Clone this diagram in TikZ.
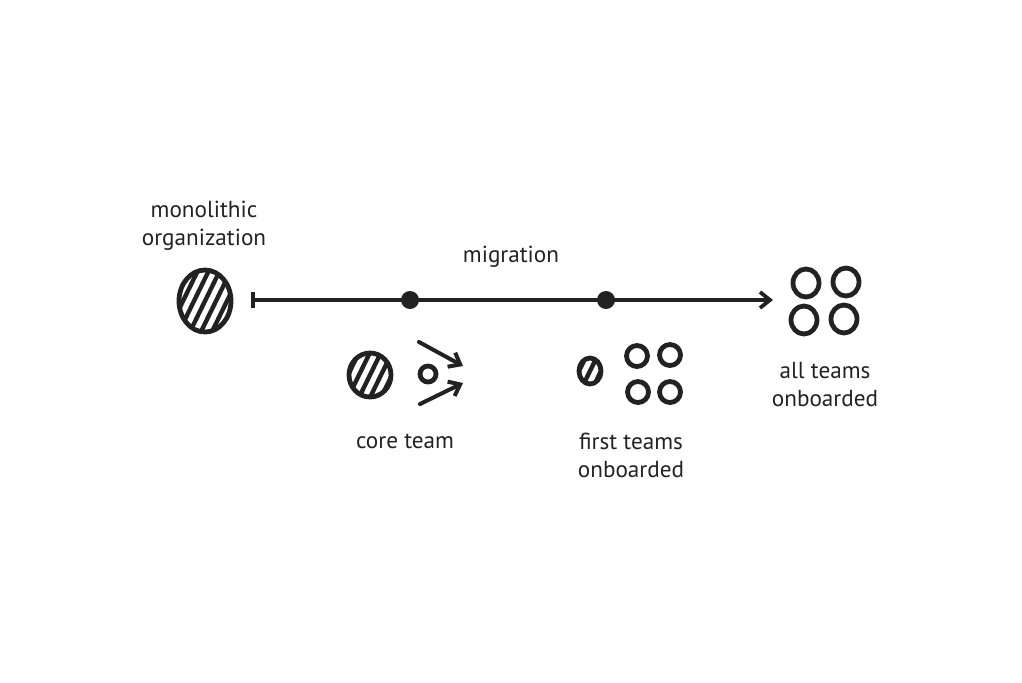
\documentclass[tikz,border=0pt]{standalone}
\usepackage{fontspec}
\setmainfont{PT Sans}
\usetikzlibrary{arrows.meta}

\definecolor{inkgray}{HTML}{222222}

% hatched blob: centre x, centre y, x radius, y radius
\newcommand{\hatchblob}[4]{%
  \begin{scope}
    \clip (#1,#2) ellipse [x radius=#3, y radius=#4];
    \foreach \k in {-66,-55,...,66}
      \draw[ink, line width=2.2pt] (#1+\k-22,#2+45) -- (#1+\k+22,#2-45);
  \end{scope}
  \draw[ink] (#1,#2) ellipse [x radius=#3, y radius=#4];
}

\tikzset{
  ink/.style={line width=2.4pt, draw=inkgray, line cap=round, line join=round},
  txt/.style={align=center, text=inkgray, font=\fontsize{11.6}{14}\selectfont},
  dot/.style={circle, fill=inkgray, inner sep=0pt, minimum size=9pt},
  team/.style={ink, circle, inner sep=0pt, minimum size=10.5pt},
  tip/.style={-{Straight Barb[length=5pt, width=8pt, line width=2pt]}},
}

\begin{document}
\begin{tikzpicture}[x=0.5pt, y=-0.5pt]
  \useasboundingbox (0,0) rectangle (1022,682);

  % labels
  \node[txt] (mono) at (204,226) {monolithic\\organization};
  \node[txt] (mig) at (511,257) {migration};
  \node[txt] (core) at (405,441) {core team};
  \node[txt] (first) at (631,455) {first teams\\onboarded};
  \node[txt] (all) at (825,385) {all teams\\onboarded};

  % monolith
  \hatchblob{205}{301}{26}{31}

  % timeline
  \coordinate (start) at (251,300);
  \coordinate (end) at (773,300);
  \draw[ink, line width=1.9pt, {Bar[width=8pt, line width=1.9pt]}-{Straight Barb[length=5pt, width=8pt, line width=1.9pt]}]
    (start) -- (end);
  \node[dot] (d1) at (410,300) {};
  \node[dot] (d2) at (606,300) {};

  % core team
  \hatchblob{370}{375}{21}{22}
  \node[team, minimum size=8pt] (seed) at (428,374) {};
  \coordinate (up1) at (419,342);
  \coordinate (up2) at (463,366);
  \coordinate (lo1) at (420,404);
  \coordinate (lo2) at (463,383);
  \draw[ink, line width=2pt, tip] (up1) -- (up2);
  \draw[ink, line width=2pt, tip] (lo1) -- (lo2);

  % first teams
  \hatchblob{590}{371}{11}{13}
  \node[team] (f1) at (637,356) {};
  \node[team] (f2) at (670,355) {};
  \node[team] (f3) at (638,392) {};
  \node[team] (f4) at (670,392) {};

  % all teams
  \draw[ink] (806,283) ellipse [x radius=13, y radius=14];
  \draw[ink] (846,282) ellipse [x radius=13, y radius=14];
  \draw[ink] (804,320) ellipse [x radius=13, y radius=14];
  \draw[ink] (844,319) ellipse [x radius=13, y radius=14];
\end{tikzpicture}
\end{document}
